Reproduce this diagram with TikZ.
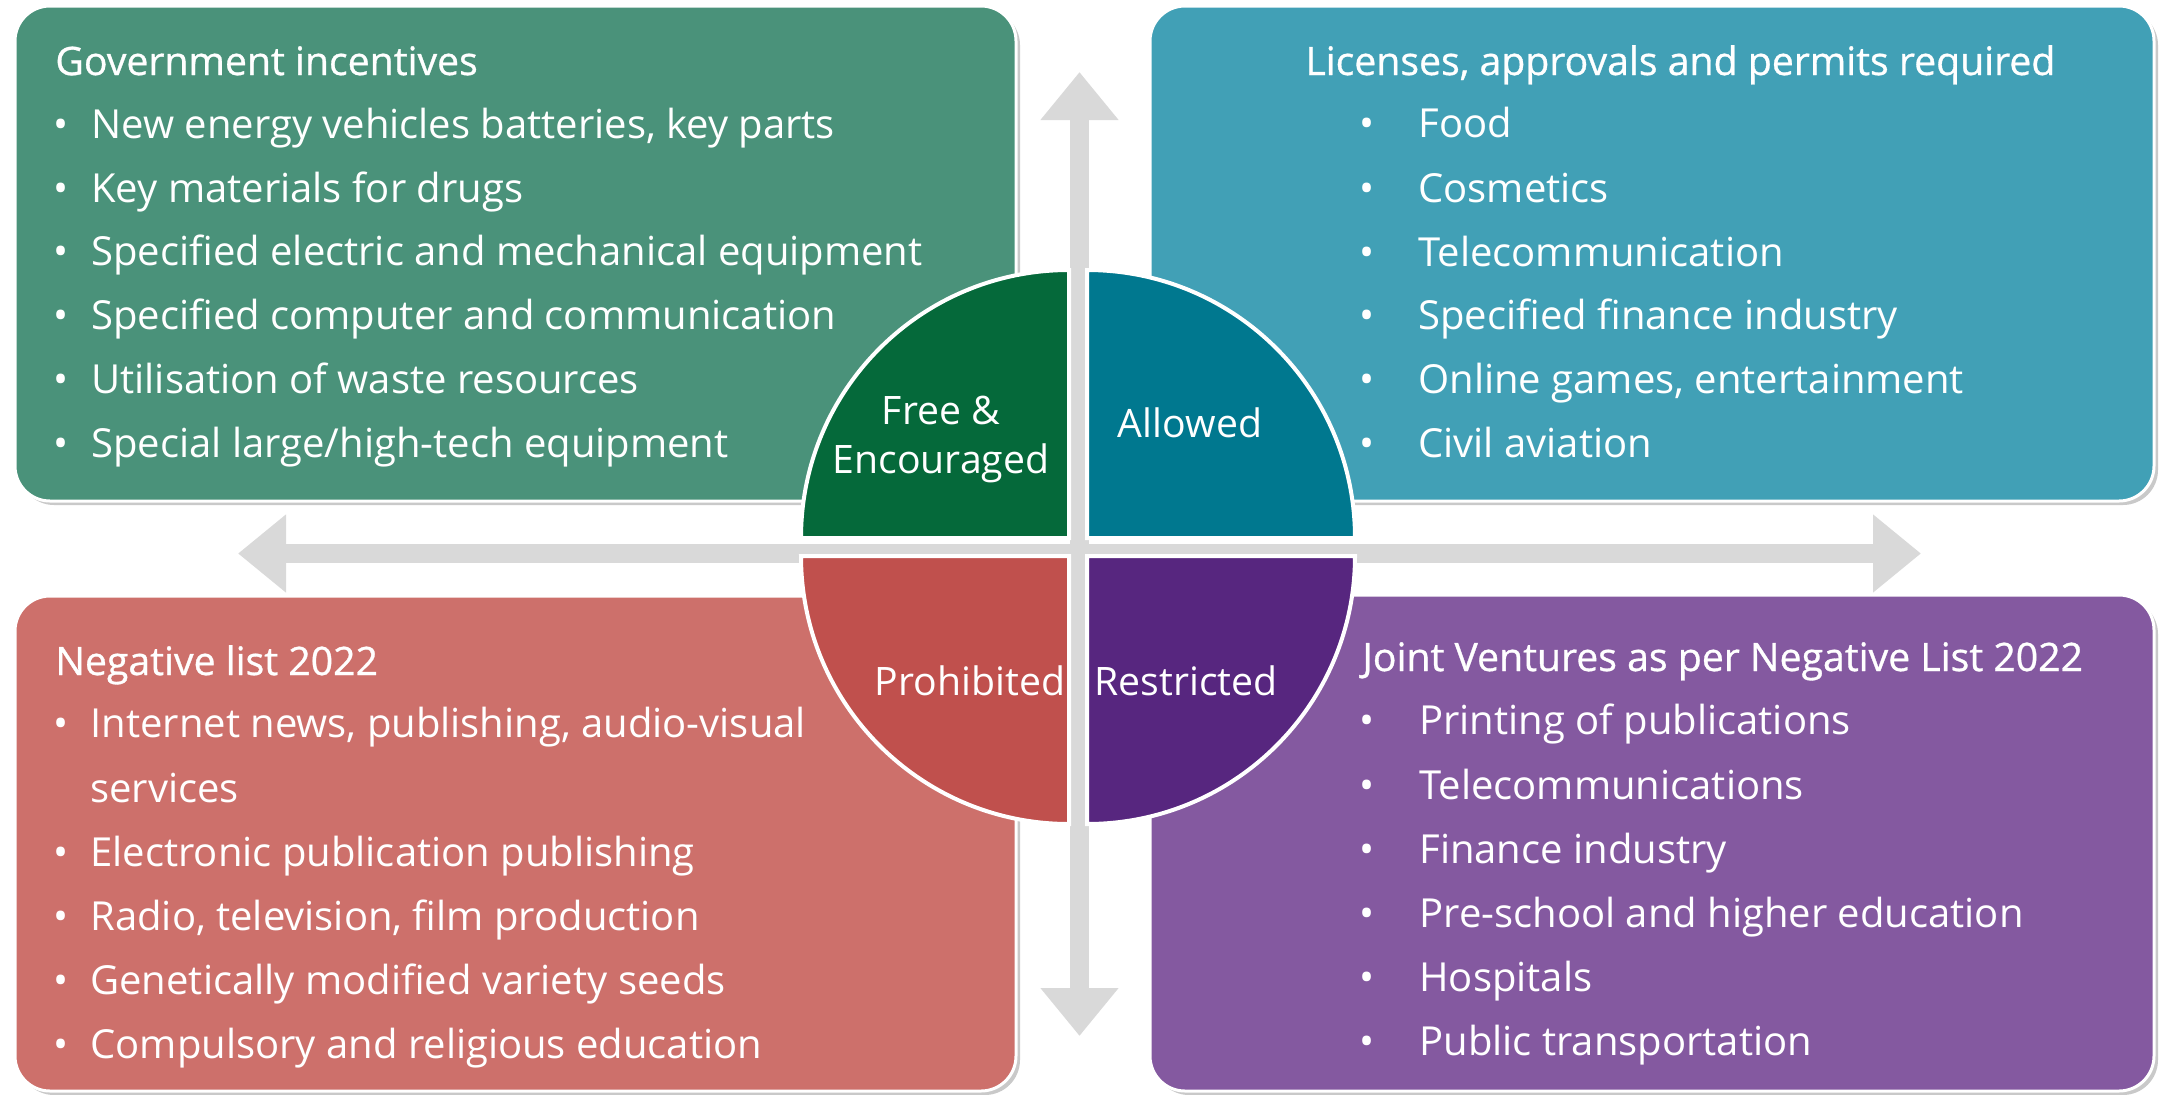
\documentclass[tikz,border=0pt]{standalone}
\usepackage{fontspec}
\setmainfont{Open Sans}
\usetikzlibrary{arrows.meta,shadows}

\definecolor{boxgreen}{HTML}{4A927A}
\definecolor{boxteal}{HTML}{41A0B6}
\definecolor{boxred}{HTML}{CD706B}
\definecolor{boxpurple}{HTML}{8459A0}
\definecolor{qgreen}{HTML}{05693A}
\definecolor{qteal}{HTML}{00788F}
\definecolor{qred}{HTML}{C0504D}
\definecolor{qpurple}{HTML}{57267F}
\definecolor{axisgray}{HTML}{D9D9D9}

% one bulleted line: name, bullet x, text x, baseline y, text
\newcommand\itemline[5]{%
  \node[bul] (#1b) at (#2,#4) {\textbullet};
  \node[txt] (#1) at (#3,#4) {#5};}

\begin{document}
\begin{tikzpicture}[x=0.5pt,y=-0.5pt,
  panel/.style={draw=white, line width=1.5pt, rounded corners=17.5pt,
    drop shadow={shadow xshift=2pt, shadow yshift=-2pt, opacity=0.3, fill=black!70}},
  quad/.style={draw=white, line width=2pt},
  txt/.style={anchor=base west, inner sep=0pt, text=white, font=\fontsize{20}{24}\selectfont},
  ttl/.style={txt, font=\fontsize{19.6}{24}\selectfont\addfontfeature{FakeBold=0.8}},
  bul/.style={anchor=base, inner sep=0pt, text=white, font=\fontsize{20}{24}\selectfont},
  lbl/.style={anchor=base, inner sep=0pt, text=white, font=\fontsize{19.6}{24}\selectfont},
  axis/.style={draw=axisgray, line width=9.5pt,
    {Triangle[length=24pt,width=37.5pt]}-{Triangle[length=24pt,width=37.5pt]}}]

\useasboundingbox (0,0) rectangle (2160,1094);

% four category panels
\path[panel, fill=boxgreen]  (15,6)    rectangle (1016,501);
\path[panel, fill=boxteal]   (1150,6)  rectangle (2154,501);
\path[panel, fill=boxred]    (15,596)  rectangle (1016,1091);
\path[panel, fill=boxpurple] (1150,595) rectangle (2154,1091);

% crossing axes
\coordinate (west)  at (238,553.5);
\coordinate (east)  at (1921,553.5);
\coordinate (north) at (1079.5,72);
\coordinate (south) at (1079.5,1036);
\draw[axis] (west) -- (east);
\draw[axis] (north) -- (south);

% central disc split into four quadrants
\path[quad, fill=qgreen]  (1069,538) -- ++(-268,0) arc[start angle=180, end angle=270, radius=268] -- cycle;
\path[quad, fill=qteal]   (1087,538) -- ++(268,0)  arc[start angle=0,   end angle=-90, radius=268] -- cycle;
\path[quad, fill=qred]    (1069,556) -- ++(-268,0) arc[start angle=180, end angle=90,  radius=268] -- cycle;
\path[quad, fill=qpurple] (1087,556) -- ++(268,0)  arc[start angle=0,   end angle=90,  radius=268] -- cycle;

\node[lbl] (free)  at (941,424)  {Free \&};
\node[lbl] (enc)   at (941,473)  {Encouraged};
\node[lbl] (allow) at (1190,437) {Allowed};
\node[lbl] (proh)  at (970,695)  {Prohibited};
\node[lbl] (restr) at (1186,695) {Restricted};

% top left panel
\node[ttl] (gt) at (55,75) {Government incentives};
\itemline{g1}{61}{91}{138}{New energy vehicles batteries, key parts}
\itemline{g2}{61}{91}{202}{Key materials for drugs}
\itemline{g3}{61}{91}{265}{Specified electric and mechanical equipment}
\itemline{g4}{61}{91}{329}{Specified computer and communication}
\itemline{g5}{61}{91}{393}{Utilisation of waste resources}
\itemline{g6}{61}{91}{457}{Special large/high-tech equipment}

% top right panel
\node[ttl] (tt) at (1305,75) {Licenses, approvals and permits required};
\itemline{t1}{1367}{1418}{137}{Food}
\itemline{t2}{1367}{1418}{202}{Cosmetics}
\itemline{t3}{1367}{1418}{266}{Telecommunication}
\itemline{t4}{1367}{1418}{329}{Specified finance industry}
\itemline{t5}{1367}{1418}{393}{Online games, entertainment}
\itemline{t6}{1367}{1418}{457}{Civil aviation}

% bottom left panel
\node[ttl] (rt) at (55,675) {Negative list 2022};
\itemline{r1}{61}{90}{737}{Internet news, publishing, audio-visual}
\node[txt] (r1c) at (90,802) {services};
\itemline{r2}{61}{90}{866}{Electronic publication publishing}
\itemline{r3}{61}{90}{930}{Radio, television, film production}
\itemline{r4}{61}{90}{994}{Genetically modified variety seeds}
\itemline{r5}{61}{90}{1058}{Compulsory and religious education}

% bottom right panel
\node[ttl] (pt) at (1362,671) {Joint Ventures as per Negative List 2022};
\itemline{p1}{1367}{1419}{734}{Printing of publications}
\itemline{p2}{1367}{1419}{799}{Telecommunications}
\itemline{p3}{1367}{1419}{863}{Finance industry}
\itemline{p4}{1367}{1419}{927}{Pre-school and higher education}
\itemline{p5}{1367}{1419}{991}{Hospitals}
\itemline{p6}{1367}{1419}{1055}{Public transportation}
\end{tikzpicture}
\end{document}
